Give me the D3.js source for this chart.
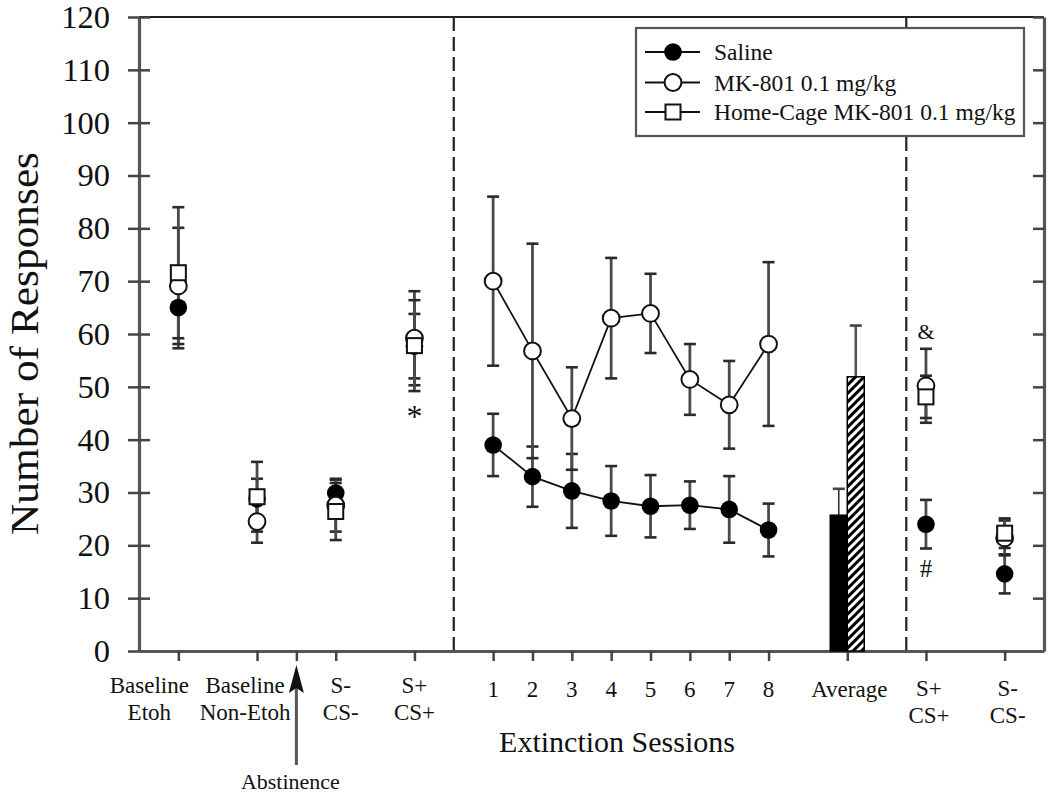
<!DOCTYPE html>
<html><head><meta charset="utf-8">
<script src="https://cdn.jsdelivr.net/npm/d3@7"></script>
<style>
body{margin:0;background:#fff}
svg{display:block}
text{font-family:"Liberation Serif","Times New Roman",serif;fill:#111}
</style>
</head><body>
<svg id="c" width="1050" height="793"></svg>
<script>
// ---------- DATA ----------
const seriesNames = ["Saline", "MK-801 0.1 mg/kg", "Home-Cage MK-801 0.1 mg/kg"];
const yTicks = [0,10,20,30,40,50,60,70,80,90,100,110,120];

const phaseLabels = [["Baseline","Etoh"],["Baseline","Non-Etoh"],["S-","CS-"],["S+","CS+"]];
const salinePhase    = [65.0, 28.8, 29.9, 57.7];
const salinePhaseSem = [7.7, 3.8, 2.5, 6.1];
const mkPhase        = [69.1, 24.5, 27.6, 59.2];
const mkPhaseSem     = [11.0, 4.0, 5.0, 8.9];
const hcPhase        = [71.6, 29.2, 26.4, 57.8];
const hcPhaseSem     = [12.4, 6.6, 5.4, 8.6];

const sessionLabels = ["1","2","3","4","5","6","7","8"];
const salineExt    = [39.0, 33.0, 30.3, 28.4, 27.4, 27.6, 26.8, 22.9];
const salineExtSem = [5.9, 5.7, 7.0, 6.6, 5.9, 4.5, 6.3, 5.0];
const mkExt        = [70.0, 56.8, 44.0, 63.0, 63.9, 51.4, 46.6, 58.1];
const mkExtSem     = [16.0, 20.3, 9.7, 11.4, 7.5, 6.7, 8.3, 15.5];

const averageLabel = "Average";
const averageGroups = ["Saline", "MK-801 0.1 mg/kg"];
const averageValues = [25.7, 51.9];
const averageSem    = [5.0, 9.7];

const testLabels = [["S+","CS+"],["S-","CS-"]];
const salineTest    = [24.0, 14.6];
const salineTestSem = [4.6, 3.7];
const mkTest        = [50.2, 21.4];
const mkTestSem     = [7.0, 3.3];
const hcTest        = [48.1, 22.3];
const hcTestSem     = [4.0, 2.8];

const sigMarks = [
  {text:"*", where:"phase", index:3, value:45.0},
  {text:"&", where:"test",  index:0, value:60.4},
  {text:"#", where:"test",  index:0, value:15.7}
];
const yTitle = "Number of Responses";
const xTitle = "Extinction Sessions";
const abstinenceLabel = "Abstinence";

// ---------- LAYOUT ----------
const phaseSlots = [1,3,5,7];
const sessionSlots = [9,10,11,12,13,14,15,16];
const averageSlot = 18;
const testSlots = [20,22];
const abstinenceSlot = 4;
const dividerSlots = [8,19.5];
const phaseLabelDx = [-29,-12,5,0];

const svg = d3.select("#c");
const x = d3.scaleLinear().domain([0,23]).range([139,1044]);
const y = d3.scaleLinear().domain([0,120]).range([651,17]);

svg.append("rect").attr("width",1050).attr("height",793).attr("fill","#fff");

const defs = svg.append("defs");
const pat = defs.append("pattern").attr("id","hatch").attr("patternUnits","userSpaceOnUse")
  .attr("width",6).attr("height",6).attr("patternTransform","rotate(45)");
pat.append("rect").attr("width",6).attr("height",6).attr("fill","#fff");
pat.append("rect").attr("width",3).attr("height",6).attr("fill","#000");

// dashed dividers
svg.selectAll("line.div").data(dividerSlots).enter().append("line")
  .attr("x1",d=>x(d)).attr("x2",d=>x(d)).attr("y1",y(120)).attr("y2",y(0))
  .attr("stroke","#222").attr("stroke-width",2.2).attr("stroke-dasharray","14,6");

// frame top line
svg.append("line").attr("x1",x(0)).attr("x2",x(23)).attr("y1",y(120)).attr("y2",y(120))
  .attr("stroke","#222").attr("stroke-width",2);

// axes
const gL = svg.append("g").attr("transform",`translate(${x(0)},0)`)
  .call(d3.axisLeft(y).tickValues(yTicks).tickSize(11).tickSizeOuter(0).tickPadding(18));
gL.selectAll(".tick line").attr("x1",11).attr("x2",-11);
gL.selectAll(".tick text").style("font-size","32.5px").attr("font-family",null).attr("fill","#111");

const gR = svg.append("g").attr("transform",`translate(${x(23)},0)`)
  .call(d3.axisLeft(y).tickValues(yTicks).tickSize(11).tickSizeOuter(0).tickFormat(""));

const bottomTicks = [1,3,4,5,7].concat(sessionSlots,[averageSlot],testSlots);
const gB = svg.append("g").attr("transform",`translate(0,${y(0)})`)
  .call(d3.axisBottom(x).tickValues(bottomTicks).tickSize(10).tickSizeOuter(0).tickFormat(""));

[gL,gR,gB].forEach(g=>{
  g.select(".domain").attr("stroke","#555").attr("stroke-width",3.2);
  g.selectAll(".tick line").attr("stroke","#444").attr("stroke-width",2.5);
});

// average bars
const band = d3.scaleBand().domain(averageGroups).range([x(averageSlot)-17, x(averageSlot)+17]).padding(0);
const avgG = svg.append("g");
averageGroups.forEach((g,i)=>{
  const bx = band(g), bw = band.bandwidth();
  const cx = bx + bw/2;
  avgG.append("line").attr("x1",cx).attr("x2",cx).attr("y1",y(averageValues[i])).attr("y2",y(averageValues[i]+averageSem[i]))
    .attr("stroke",i===0?"#333":"#555").attr("stroke-width",i===0?1.6:2.6);
  avgG.append("line").attr("x1",cx-6).attr("x2",cx+6).attr("y1",y(averageValues[i]+averageSem[i])).attr("y2",y(averageValues[i]+averageSem[i]))
    .attr("stroke","#444").attr("stroke-width",2.6);
  avgG.append("rect").attr("x",bx).attr("width",bw).attr("y",y(averageValues[i])).attr("height",y(0)-y(averageValues[i]))
    .attr("fill",i===0?"#000":"url(#hatch)").attr("stroke","#000").attr("stroke-width",1.5);
});

// collect point data
const groupsPts = [[],[],[]];
function addSet(slots, vals, sems, gi){
  vals.forEach((v,i)=>groupsPts[gi].push({sx:slots[i], v, e:sems[i]}));
}
addSet(phaseSlots, salinePhase, salinePhaseSem, 0);
addSet(phaseSlots, mkPhase, mkPhaseSem, 1);
addSet(phaseSlots, hcPhase, hcPhaseSem, 2);
addSet(sessionSlots, salineExt, salineExtSem, 0);
addSet(sessionSlots, mkExt, mkExtSem, 1);
addSet(testSlots, salineTest, salineTestSem, 0);
addSet(testSlots, mkTest, mkTestSem, 1);
addSet(testSlots, hcTest, hcTestSem, 2);

// error bars
const errG = svg.append("g");
groupsPts.forEach(pts=>{
  pts.forEach(p=>{
    const cx = x(p.sx);
    errG.append("line").attr("x1",cx).attr("x2",cx).attr("y1",y(p.v-p.e)).attr("y2",y(p.v+p.e))
      .attr("stroke","#4a4a4a").attr("stroke-width",2.8);
    [p.v-p.e, p.v+p.e].forEach(t=>{
      errG.append("line").attr("x1",cx-6).attr("x2",cx+6).attr("y1",y(t)).attr("y2",y(t))
        .attr("stroke","#2a2a2a").attr("stroke-width",2.6);
    });
  });
});

// lines across extinction sessions
const line = d3.line().x(d=>x(d.sx)).y(d=>y(d.v));
[salineExt, mkExt].forEach(vals=>{
  svg.append("path").datum(vals.map((v,i)=>({sx:sessionSlots[i], v})))
    .attr("d",line).attr("fill","none").attr("stroke","#111").attr("stroke-width",1.8);
});

// markers
function marker(g, gi, cx, cy){
  if(gi===0) g.append("circle").attr("cx",cx).attr("cy",cy).attr("r",8.8).attr("fill","#000");
  else if(gi===1) g.append("circle").attr("cx",cx).attr("cy",cy).attr("r",8.4).attr("fill","#fff").attr("stroke","#111").attr("stroke-width",2);
  else g.append("rect").attr("x",cx-7.5).attr("y",cy-7.5).attr("width",15).attr("height",15).attr("fill","#fff").attr("stroke","#111").attr("stroke-width",2);
}
const mkG = svg.append("g");
groupsPts.forEach((pts,gi)=>pts.forEach(p=>marker(mkG, gi, x(p.sx), y(p.v))));

// significance marks
sigMarks.forEach(m=>{
  const sx = m.where==="phase" ? phaseSlots[m.index] : testSlots[m.index];
  const fs = m.text==="*" ? 32 : (m.text==="&" ? 22 : 25);
  const off = m.text==="*" ? 14 : (m.text==="&" ? 7.5 : 8.5);
  svg.append("text").attr("x",x(sx)).attr("y",y(m.value)+off).attr("text-anchor","middle")
    .style("font-size",fs+"px").text(m.text);
});

// x labels
const lab = svg.append("g").style("font-size","23px").attr("text-anchor","middle");
phaseLabels.forEach((ls,i)=>{
  ls.forEach((t,j)=>lab.append("text").attr("x",x(phaseSlots[i])+phaseLabelDx[i]).attr("y",y(0)+42+j*26.5).text(t));
});
sessionLabels.forEach((t,i)=>lab.append("text").attr("x",x(sessionSlots[i])).attr("y",y(0)+46).text(t));
lab.append("text").attr("x",x(averageSlot)+2).attr("y",y(0)+46).text(averageLabel);
testLabels.forEach((ls,i)=>{
  ls.forEach((t,j)=>lab.append("text").attr("x",x(testSlots[i])+3).attr("y",y(0)+45+j*26.5).text(t));
});

svg.append("text").attr("x",617).attr("y",752).attr("text-anchor","middle").style("font-size","30px").text(xTitle);

// abstinence arrow
const ax = x(abstinenceSlot);
svg.append("line").attr("x1",ax).attr("x2",ax).attr("y1",765).attr("y2",685).attr("stroke","#555").attr("stroke-width",3);
svg.append("path").attr("d",`M${ax},665 L${ax+7.5},693 L${ax},688 L${ax-7.5},693 Z`).attr("fill","#111");
svg.append("text").attr("x",ax-6).attr("y",789).attr("text-anchor","middle").style("font-size","22px").text(abstinenceLabel);

// y title
svg.append("text").attr("transform",`translate(38,343.5) rotate(-90)`).attr("text-anchor","middle")
  .style("font-size","40px").attr("textLength",383).attr("lengthAdjust","spacingAndGlyphs").text(yTitle);

// legend
const lg = svg.append("g");
lg.append("rect").attr("x",636).attr("y",28).attr("width",388).attr("height",108)
  .attr("fill","#fff").attr("stroke","#555").attr("stroke-width",2.2);
const legY = [52, 82.5, 112];
seriesNames.forEach((n,i)=>{
  lg.append("line").attr("x1",645).attr("x2",700).attr("y1",legY[i]).attr("y2",legY[i]).attr("stroke","#111").attr("stroke-width",2);
  marker(lg, i, 673, legY[i]);
  lg.append("text").attr("x",714).attr("y",legY[i]+8).style("font-size","23.5px").text(n);
});
</script>
</body></html>
